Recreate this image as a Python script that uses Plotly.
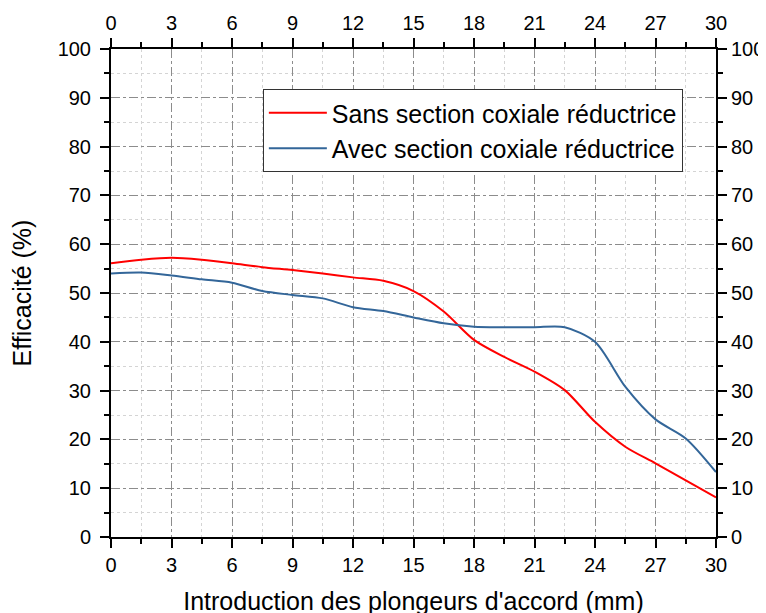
import plotly.graph_objects as go

x_mm = [0, 1.5, 3, 4.5, 6, 7.5, 9, 10.5, 12, 13.5, 15, 16.5, 18, 19.5, 21, 22.5, 24, 25.5, 27, 28.5, 30]
sans_section = [56.1, 56.8, 57.2, 56.8, 56.1, 55.3, 54.7, 54.0, 53.2, 52.5, 50.4, 46.2, 40.4, 36.9, 33.9, 30.1, 23.6, 18.5, 15.1, 11.6, 8.1]
avec_section = [54.0, 54.2, 53.6, 52.8, 52.1, 50.4, 49.6, 48.9, 47.1, 46.3, 45.0, 43.8, 43.1, 43.0, 43.0, 43.0, 40.0, 30.8, 24.1, 20.2, 13.3]
x_ticks = [0, 3, 6, 9, 12, 15, 18, 21, 24, 27, 30]
y_ticks = [0, 10, 20, 30, 40, 50, 60, 70, 80, 90, 100]

FONT = "Liberation Sans, Arial, sans-serif"

fig = go.Figure()
fig.add_trace(go.Scatter(x=x_mm, y=sans_section, mode="lines", name="Sans section coxiale réductrice",
                         line=dict(color="#FF0000", width=2, shape="spline", smoothing=0.8)))
fig.add_trace(go.Scatter(x=x_mm, y=avec_section, mode="lines", name="Avec section coxiale réductrice",
                         line=dict(color="#336699", width=2, shape="spline", smoothing=0.8)))
# invisible trace so that the mirrored top/right axes are drawn
fig.add_trace(go.Scatter(x=x_mm, y=avec_section, mode="lines", xaxis="x2", yaxis="y2", showlegend=False,
                         hoverinfo="skip", line=dict(width=0), opacity=0))

axis_common = dict(showline=True, linecolor="black", linewidth=2, ticks="outside", ticklen=9, tickwidth=2,
                   tickcolor="black", tickfont=dict(family=FONT, size=20, color="black"), zeroline=False,
                   automargin=False)

fig.update_layout(
    width=766, height=613,
    margin=dict(l=103, r=58, t=41, b=84),
    plot_bgcolor="white", paper_bgcolor="white",
    font=dict(family=FONT, color="black"),
    showlegend=True,
    legend=dict(x=0.251, y=0.918, xanchor="left", yanchor="top", bgcolor="white",
                bordercolor="#333333", borderwidth=1, font=dict(family=FONT, size=25, color="black"),
                tracegroupgap=0, itemwidth=58),
    xaxis=dict(range=[0, 30], tickvals=x_ticks, showgrid=True, gridcolor="#8c8c8c", griddash="dashdot", gridwidth=1,
               minor=dict(dtick=1.5, ticks="outside", ticklen=5, tickwidth=2, tickcolor="black",
                          showgrid=True, gridcolor="#d4d4d4", griddash="dot", gridwidth=1),
               title=dict(text="Introduction des plongeurs d'accord (mm)", font=dict(family=FONT, size=25), standoff=17),
               **axis_common),
    yaxis=dict(range=[0, 100], tickvals=y_ticks, showgrid=True, gridcolor="#8c8c8c", griddash="dashdot", gridwidth=1,
               minor=dict(dtick=5, ticks="outside", ticklen=5, tickwidth=2, tickcolor="black",
                          showgrid=True, gridcolor="#d4d4d4", griddash="dot", gridwidth=1),
               title=dict(text="Efficacité (%)", font=dict(family=FONT, size=25), standoff=23),
               ticklabelstandoff=5,
               **axis_common),
    xaxis2=dict(range=[0, 30], tickvals=x_ticks, overlaying="x", side="top", anchor="y2", showgrid=False,
                minor=dict(dtick=1.5, ticks="outside", ticklen=5, tickwidth=2, tickcolor="black"),
                **axis_common),
    yaxis2=dict(range=[0, 100], tickvals=y_ticks, overlaying="y", side="right", anchor="x2", showgrid=False,
                minor=dict(dtick=5, ticks="outside", ticklen=5, tickwidth=2, tickcolor="black"),
                **axis_common),
)

fig.write_html("out.html")
